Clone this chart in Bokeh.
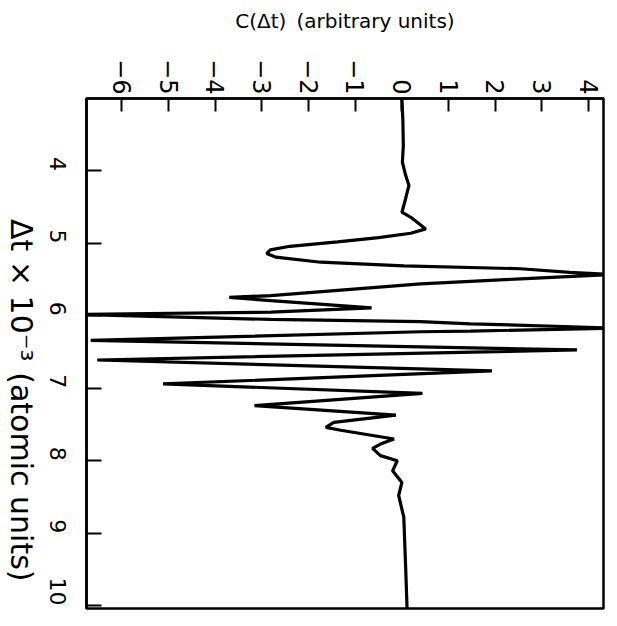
import math
from bokeh.plotting import figure
from bokeh.layouts import row
from bokeh.models import Range1d, FixedTicker
from bokeh.core.properties import value
from bokeh.embed import file_html
from bokeh.resources import INLINE

# Δt × 10^-3 (atomic units) and C(Δt) (arbitrary units)
dt = [3.00, 3.30, 3.65, 3.88, 4.06, 4.20, 4.38, 4.57, 4.64, 4.80, 4.86, 4.92, 4.98,
      5.04, 5.09, 5.14, 5.19, 5.26, 5.31, 5.35, 5.40, 5.43, 5.49, 5.56, 5.72, 5.745,
      5.79, 5.89, 5.95, 5.98, 6.05, 6.08, 6.11, 6.17, 6.21, 6.22, 6.34, 6.47, 6.61,
      6.76, 6.94, 7.07, 7.24, 7.37, 7.47, 7.54, 7.58, 7.70, 7.77, 7.83, 7.93, 8.00,
      8.14, 8.30, 8.48, 8.78, 9.47, 10.04]
c = [0.00, 0.02, 0.03, 0.01, 0.08, 0.15, 0.08, 0.00, 0.19, 0.51, 0.19, -0.50, -1.38,
     -2.40, -2.82, -2.90, -2.70, -1.74, 0.04, 2.54, 3.60, 4.50, 2.54, 0.40, -2.81, -3.70,
     -2.81, -0.65, -2.81, -7.00, -2.81, 0.40, 1.47, 4.60, 1.47, 0.40, -6.67, 3.75, -6.53,
     1.93, -5.12, 0.44, -3.16, -0.13, -1.46, -1.63, -1.31, -0.17, -0.46, -0.63, -0.46, -0.10,
     -0.20, 0.00, -0.07, 0.04, 0.08, 0.11]

c_ticks = [-6, -5, -4, -3, -2, -1, 0, 1, 2, 3, 4]
c_tick_labels = ["\u22126", "\u22125", "\u22124", "\u22123", "\u22122", "\u22121",
                 "0", "1", "2", "3", "4"]
dt_ticks = [4, 5, 6, 7, 8, 9, 10]
dt_tick_labels = ["4", "5", "6", "7", "8", "9", "10"]
c_title = "C(\u0394t)\u2002(arbitrary units)"
dt_title_parts = ["\u0394t \u00d7 10\u207b\u00b3", "(atomic units)"]

FONT = "DejaVu Sans"
TOTAL_H = 626
SIDE_W = 38

# narrow strip on the left that carries the Δt axis title, reading top-to-bottom
side = figure(width=SIDE_W, height=TOTAL_H, output_backend="svg", toolbar_location=None,
              x_range=Range1d(0, SIDE_W), y_range=Range1d(TOTAL_H, 0),
              x_axis_type=None, y_axis_type=None,
              min_border_left=0, min_border_right=0, min_border_top=0, min_border_bottom=0)
side.outline_line_color = None
side.xgrid.visible = False
side.ygrid.visible = False
side.text(x=[21, 21], y=[148, 336], text=dt_title_parts, angle=-math.pi / 2,
          text_align="left", text_baseline="middle",
          text_font=value(FONT), text_font_size="30px", text_color="black")

p = figure(width=617 - SIDE_W, height=TOTAL_H, output_backend="svg", toolbar_location=None,
           x_range=Range1d(-6.76, 4.32), y_range=Range1d(10.04, 3.0),
           x_axis_location="above",
           min_border_left=85 - SIDE_W, min_border_right=14, min_border_top=98,
           min_border_bottom=18)

p.line(c, dt, line_color="black", line_width=3.2)

p.xgrid.visible = False
p.ygrid.visible = False
p.outline_line_color = "black"
p.outline_line_width = 2.5

xa = p.xaxis[0]
xa.ticker = FixedTicker(ticks=c_ticks)
xa.major_label_overrides = dict(zip(c_ticks, c_tick_labels))
xa.major_label_orientation = -math.pi / 2
xa.major_tick_in = 13
xa.major_tick_out = 0
xa.minor_tick_line_color = None
xa.major_tick_line_width = 2
xa.axis_line_width = 2.5
xa.major_label_text_font = FONT
xa.major_label_text_font_size = "24px"
xa.major_label_text_color = "black"
xa.major_label_standoff = 4
xa.axis_label = c_title
xa.axis_label_text_font = FONT
xa.axis_label_text_font_style = "normal"
xa.axis_label_text_font_size = "20px"
xa.axis_label_text_color = "black"
xa.axis_label_standoff = 23

ya = p.yaxis[0]
ya.ticker = FixedTicker(ticks=dt_ticks)
ya.major_label_overrides = dict(zip(dt_ticks, dt_tick_labels))
ya.major_label_orientation = -math.pi / 2
ya.major_tick_in = 15
ya.major_tick_out = 0
ya.minor_tick_line_color = None
ya.major_tick_line_width = 2
ya.axis_line_width = 2.5
ya.major_label_text_font = FONT
ya.major_label_text_font_size = "22px"
ya.major_label_text_color = "black"
ya.major_label_standoff = 29

layout = row(side, p, spacing=0)
open("out.html", "w").write(file_html(layout, INLINE))
